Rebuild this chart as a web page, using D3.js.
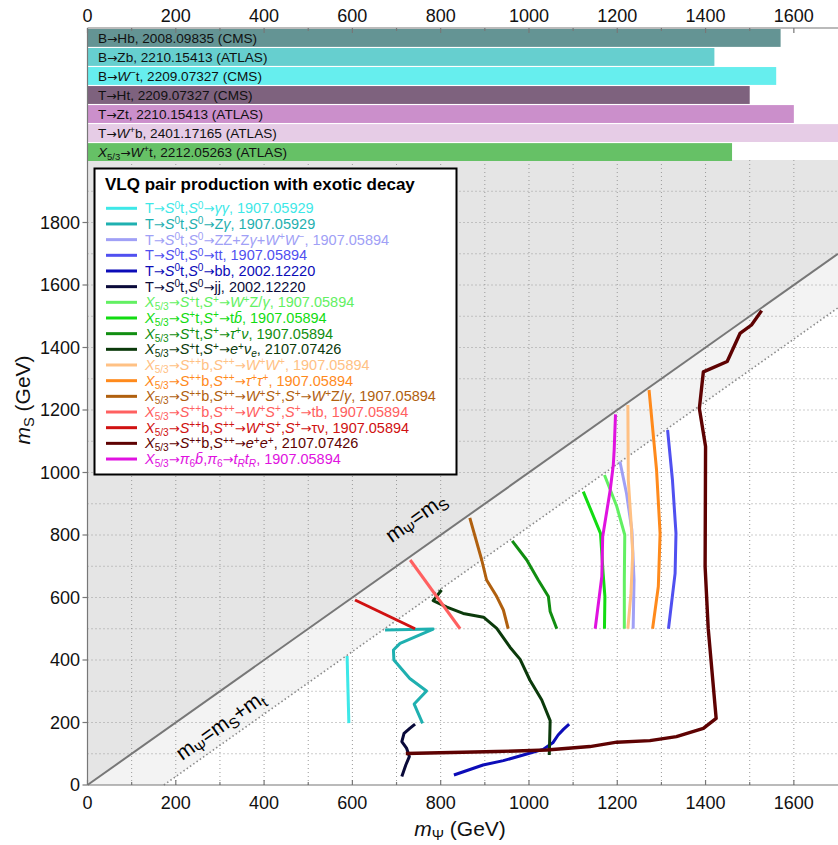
<!DOCTYPE html>
<html><head><meta charset="utf-8">
<script src="https://cdn.jsdelivr.net/npm/d3@7"></script>
<style>
body{margin:0;background:#fff}
text{font-family:"Liberation Sans",Arial,Helvetica,sans-serif}
</style>
</head><body>
<svg id="chart" width="838" height="845"></svg>
<script>
// ---------------- DATA ----------------
const barLabels = [
  "B→Hb, 2008.09835 (CMS)",
  "B→Zb, 2210.15413 (ATLAS)",
  "B→<i>W</i><sup>−</sup>t, 2209.07327 (CMS)",
  "T→Ht, 2209.07327 (CMS)",
  "T→Zt, 2210.15413 (ATLAS)",
  "T→<i>W</i><sup>+</sup>b, 2401.17165 (ATLAS)",
  "<i>X</i><sub>5/3</sub>→<i>W</i><sup>+</sup>t, 2212.05263 (ATLAS)"
];
const barValues = [1570, 1420, 1560, 1500, 1600, 1700, 1460];
const barColors = ["#649494", "#66cfcf", "#66eeee", "#7e627e", "#cb8fcb", "#e6cce6", "#66c166"];

const xTicks = [0, 200, 400, 600, 800, 1000, 1200, 1400, 1600];
const yTicks = [0, 200, 400, 600, 800, 1000, 1200, 1400, 1600, 1800];
const topMass = 173;

const seriesNames = [
  "T→<i>S</i><sup>0</sup>t,<i>S</i><sup>0</sup>→<i>γγ</i>, 1907.05929",
  "T→<i>S</i><sup>0</sup>t,<i>S</i><sup>0</sup>→Z<i>γ</i>, 1907.05929",
  "T→<i>S</i><sup>0</sup>t,<i>S</i><sup>0</sup>→ZZ+Z<i>γ</i>+<i>W</i><sup>+</sup><i>W</i><sup>−</sup>, 1907.05894",
  "T→<i>S</i><sup>0</sup>t,<i>S</i><sup>0</sup>→tt, 1907.05894",
  "T→<i>S</i><sup>0</sup>t,<i>S</i><sup>0</sup>→bb, 2002.12220",
  "T→<i>S</i><sup>0</sup>t,<i>S</i><sup>0</sup>→jj, 2002.12220",
  "<i>X</i><sub>5/3</sub>→<i>S</i><sup>+</sup>t,<i>S</i><sup>+</sup>→<i>W</i><sup>+</sup>Z/<i>γ</i>, 1907.05894",
  "<i>X</i><sub>5/3</sub>→<i>S</i><sup>+</sup>t,<i>S</i><sup>+</sup>→t<i>b̄</i>, 1907.05894",
  "<i>X</i><sub>5/3</sub>→<i>S</i><sup>+</sup>t,<i>S</i><sup>+</sup>→<i>τ</i><sup>+</sup><i>ν</i>, 1907.05894",
  "<i>X</i><sub>5/3</sub>→<i>S</i><sup>+</sup>t,<i>S</i><sup>+</sup>→<i>e</i><sup>+</sup><i>ν</i><sub><i>e</i></sub>, 2107.07426",
  "<i>X</i><sub>5/3</sub>→<i>S</i><sup>++</sup>b,<i>S</i><sup>++</sup>→<i>W</i><sup>+</sup><i>W</i><sup>+</sup>, 1907.05894",
  "<i>X</i><sub>5/3</sub>→<i>S</i><sup>++</sup>b,<i>S</i><sup>++</sup>→<i>τ</i><sup>+</sup><i>τ</i><sup>+</sup>, 1907.05894",
  "<i>X</i><sub>5/3</sub>→<i>S</i><sup>++</sup>b,<i>S</i><sup>++</sup>→<i>W</i><sup>+</sup><i>S</i><sup>+</sup>,<i>S</i><sup>+</sup>→<i>W</i><sup>+</sup>Z/<i>γ</i>, 1907.05894",
  "<i>X</i><sub>5/3</sub>→<i>S</i><sup>++</sup>b,<i>S</i><sup>++</sup>→<i>W</i><sup>+</sup><i>S</i><sup>+</sup>,<i>S</i><sup>+</sup>→tb, 1907.05894",
  "<i>X</i><sub>5/3</sub>→<i>S</i><sup>++</sup>b,<i>S</i><sup>++</sup>→<i>W</i><sup>+</sup><i>S</i><sup>+</sup>,<i>S</i><sup>+</sup>→τν, 1907.05894",
  "<i>X</i><sub>5/3</sub>→<i>S</i><sup>++</sup>b,<i>S</i><sup>++</sup>→<i>e</i><sup>+</sup><i>e</i><sup>+</sup>, 2107.07426",
  "<i>X</i><sub>5/3</sub>→<i>π</i><sub>6</sub><i>b̄</i>,<i>π</i><sub>6</sub>→<i>t</i><sub><i>R</i></sub><i>t</i><sub><i>R</i></sub>, 1907.05894"
];
const seriesColors = [
  "#3ee8e8", "#1fb0b0", "#a0a0f6", "#5050f0", "#0c0cb8", "#0a0a3a",
  "#62f062", "#12dc12", "#118e11", "#0b3a0b",
  "#ffc184", "#ff8a1c", "#b0600f", "#ff6060", "#d01111", "#5e0202", "#e012e0"
];

// curves: [m_Psi, m_S] in GeV
const curveGammaGamma = [[588,413],[592,198]];
const curveZGamma = [[674,496],[783,499],[708,453],[693,432],[694,400],[730,341],[768,301],[740,259],[759,197]];
const curveZZ = [[1206,1035],[1221,933],[1233,816],[1238,656],[1236,500]];
const curveTT = [[1314,1136],[1325,976],[1333,805],[1331,677],[1316,500]];
const curveBB = [[830,32],[896,64],[942,78],[995,99],[1032,114],[1054,135],[1066,160],[1078,178],[1091,195]];
const curveJJ = [[742,195],[730,181],[717,165],[712,139],[723,117],[729,91],[721,64],[712,27]];
const curveSpWZ = [[1171,992],[1199,891],[1217,800],[1216,656],[1216,500]];
const curveSpTB = [[1123,939],[1162,805],[1168,677],[1172,603],[1171,500]];
const curveSpTauNu = [[962,781],[995,720],[1021,656],[1044,603],[1048,555],[1063,500]];
const curveSpENu = [[802,624],[783,590],[814,569],[851,549],[897,537],[927,501],[957,441],[980,402],[1002,336],[1029,272],[1048,206],[1046,96]];
const curveSppWW = [[1224,1216],[1225,976],[1231,848],[1235,741],[1231,613],[1224,500]];
const curveSppTauTau = [[1272,1264],[1289,1008],[1297,805],[1293,635],[1280,500]];
const curveSppWSWZ = [[866,855],[893,720],[904,656],[927,603],[942,560],[953,500]];
const curveSppWSTB = [[731,720],[844,500]];
const curveSppWSTauNu = [[606,592],[742,500]];
const curveSppEE = [[721,101],[927,107],[1040,112],[1138,123],[1199,137],[1274,142],[1334,155],[1395,181],[1424,213],[1406,501],[1399,699],[1400,1083],[1386,1205],[1395,1322],[1449,1355],[1478,1445],[1504,1472],[1527,1518]];
const curvePi6 = [[1196,1186],[1193,1072],[1191,1024],[1184,944],[1167,795],[1165,667],[1150,500]];

const seriesData = [curveGammaGamma, curveZGamma, curveZZ, curveTT, curveBB, curveJJ,
  curveSpWZ, curveSpTB, curveSpTauNu, curveSpENu,
  curveSppWW, curveSppTauTau, curveSppWSWZ, curveSppWSTB, curveSppWSTauNu, curveSppEE, curvePi6];

// ---------------- DRAW ----------------
const svg = d3.select("#chart");
const x = d3.scaleLinear().domain([0, 1700]).range([87.5, 838]);
const y = d3.scaleLinear().domain([0, 2000]).range([785, 160]);

function rich(sel, str, fs) {
  const toks = str.split(/(<\/?(?:i|sup|sub)>|→)/).filter(t => t.length);
  let it = false, mode = null, cur = 0;
  toks.forEach(t => {
    if (t === "<i>") { it = true; return; }
    if (t === "</i>") { it = false; return; }
    if (t === "<sup>") { mode = "sup"; return; }
    if (t === "<sub>") { mode = "sub"; return; }
    if (t === "</sup>" || t === "</sub>") { mode = null; return; }
    const target = mode === "sup" ? -0.33 * fs : mode === "sub" ? 0.2 * fs : 0;
    const ts = sel.append("tspan").attr("dy", (target - cur).toFixed(2))
      .attr("font-style", it ? "italic" : "normal")
      .attr("font-size", mode ? fs * 0.7 : fs).text(t);
    if (t === "→") ts.attr("font-family", "DejaVu Sans").attr("font-size", fs * 0.9);
    cur = target;
  });
}

// background regions
const plot = svg.append("g");
plot.append("rect").attr("x", x(0)).attr("y", y(2000)).attr("width", x(1700) - x(0)).attr("height", y(0) - y(2000)).attr("fill", "#fff");
plot.append("path").attr("fill", "#e5e5e5")
  .attr("d", d3.line()([[x(0), y(0)], [x(1700), y(1700)], [x(1700), y(2000)], [x(0), y(2000)]]));
plot.append("path").attr("fill", "#f3f3f3")
  .attr("d", d3.line()([[x(0), y(0)], [x(1700), y(1700)], [x(1700), y(1700 - topMass)], [x(topMass), y(0)]]));

// grid
const gridX = d3.range(100, 1700, 100), gridY = d3.range(100, 2000, 100);
plot.selectAll(".gx").data(gridX).join("line")
  .attr("x1", d => x(d)).attr("x2", d => x(d)).attr("y1", y(0)).attr("y2", y(2000))
  .attr("stroke", "#9a9a9a").attr("stroke-width", 1).attr("stroke-dasharray", "1,3");
plot.selectAll(".gy").data(gridY).join("line")
  .attr("x1", x(0)).attr("x2", x(1700)).attr("y1", d => y(d)).attr("y2", d => y(d))
  .attr("stroke", "#9a9a9a").attr("stroke-width", 1).attr("stroke-dasharray", "1,3");

// diagonals
plot.append("line").attr("x1", x(0)).attr("y1", y(0)).attr("x2", x(1700)).attr("y2", y(1700))
  .attr("stroke", "#777").attr("stroke-width", 2);
plot.append("line").attr("x1", x(topMass)).attr("y1", y(0)).attr("x2", x(1700)).attr("y2", y(1700 - topMass))
  .attr("stroke", "#8a8a8a").attr("stroke-width", 1.6).attr("stroke-dasharray", "1.5,2.5");

const ang = -Math.atan((y(0) - y(1000)) / (x(1000) - x(0))) * 180 / Math.PI;
const lab1 = svg.append("text").attr("text-anchor", "middle")
  .attr("transform", `translate(${x(753)},${y(838)}) rotate(${ang})`).attr("dy", "0.35em");
rich(lab1, "m<sub>Ψ</sub>=m<sub>S</sub>", 21);
const lab2 = svg.append("text").attr("text-anchor", "middle")
  .attr("transform", `translate(${x(310)},${y(172)}) rotate(${ang})`).attr("dy", "0.35em");
rich(lab2, "m<sub>Ψ</sub>=m<sub>S</sub>+m<sub>t</sub>", 21);

// curves
const line = d3.line().x(d => x(d[0])).y(d => y(d[1]));
svg.append("g").selectAll("path").data(seriesData).join("path")
  .attr("d", line).attr("fill", "none")
  .attr("stroke", (d, i) => seriesColors[i])
  .attr("stroke-width", (d, i) => i === 15 ? 3.4 : 3)
  .attr("stroke-linejoin", "round");

// top bars
const yb = d3.scaleBand().domain(d3.range(barValues.length)).range([29, 161]).paddingInner(0.06);
const bars = svg.append("g");
bars.selectAll("rect").data(barValues).join("rect")
  .attr("x", x(0)).attr("y", (d, i) => yb(i)).attr("width", d => x(d) - x(0))
  .attr("height", yb.bandwidth()).attr("fill", (d, i) => barColors[i]);
barLabels.forEach((s, i) => {
  const t = bars.append("text").attr("x", 98).attr("y", yb(i) + yb.bandwidth() / 2 + 4.8).attr("fill", "#111");
  rich(t, s, 13.6);
});

// axes frame
const ax = svg.append("g").attr("stroke", "#777").attr("stroke-width", 1.2);
ax.append("line").attr("x1", x(0)).attr("x2", x(0)).attr("y1", 28).attr("y2", y(0));
ax.append("line").attr("x1", x(0)).attr("x2", 838).attr("y1", y(0)).attr("y2", y(0));
ax.append("line").attr("x1", x(0)).attr("x2", 838).attr("y1", 28).attr("y2", 28);

xTicks.forEach(v => {
  ax.append("line").attr("x1", x(v)).attr("x2", x(v)).attr("y1", y(0)).attr("y2", y(0) - 5);
  ax.append("line").attr("x1", x(v)).attr("x2", x(v)).attr("y1", 28).attr("y2", 33);
});
d3.range(100, 1700, 200).forEach(v => {
  ax.append("line").attr("x1", x(v)).attr("x2", x(v)).attr("y1", y(0)).attr("y2", y(0) - 3);
  ax.append("line").attr("x1", x(v)).attr("x2", x(v)).attr("y1", 28).attr("y2", 31);
});
svg.append("g").selectAll("text").data(xTicks).join("text")
  .attr("x", d => x(d)).attr("y", 809).attr("text-anchor", "middle")
  .attr("font-size", 18).attr("fill", "#111").text(d => d);
svg.append("g").selectAll("text").data(xTicks).join("text")
  .attr("x", d => x(d)).attr("y", 22).attr("text-anchor", "middle")
  .attr("font-size", 18).attr("fill", "#111").text(d => d);

yTicks.forEach(v => {
  ax.append("line").attr("x1", x(0) - 5).attr("x2", x(0)).attr("y1", y(v)).attr("y2", y(v));
});
svg.append("g").selectAll("text").data(yTicks).join("text")
  .attr("x", 80).attr("y", d => y(d)).attr("dy", "0.35em").attr("text-anchor", "end")
  .attr("font-size", 18).attr("fill", "#111").text(d => d);

// axis titles
const xt = svg.append("text").attr("x", 460).attr("y", 836).attr("text-anchor", "middle").attr("fill", "#111");
rich(xt, "<i>m</i><sub>Ψ</sub> (GeV)", 21);
const yt = svg.append("text").attr("text-anchor", "middle").attr("fill", "#111")
  .attr("transform", "translate(30,400) rotate(-90)");
rich(yt, "<i>m</i><sub>S</sub> (GeV)", 21);

// legend
const lg = svg.append("g");
lg.append("rect").attr("x", 94.5).attr("y", 168.5).attr("width", 362).attr("height", 306)
  .attr("fill", "#fff").attr("stroke", "#000").attr("stroke-width", 2);
lg.append("text").attr("x", 105).attr("y", 189.5).attr("font-size", 17).attr("font-weight", "bold")
  .attr("fill", "#000").text("VLQ pair production with exotic decay");
seriesNames.forEach((s, i) => {
  const cy = 208.3 + i * 15.67;
  lg.append("line").attr("x1", 106).attr("x2", 137).attr("y1", cy).attr("y2", cy)
    .attr("stroke", seriesColors[i]).attr("stroke-width", 3);
  const t = lg.append("text").attr("x", 145).attr("y", cy + 5).attr("fill", seriesColors[i]);
  rich(t, s, 14.5);
});
</script>
</body></html>
